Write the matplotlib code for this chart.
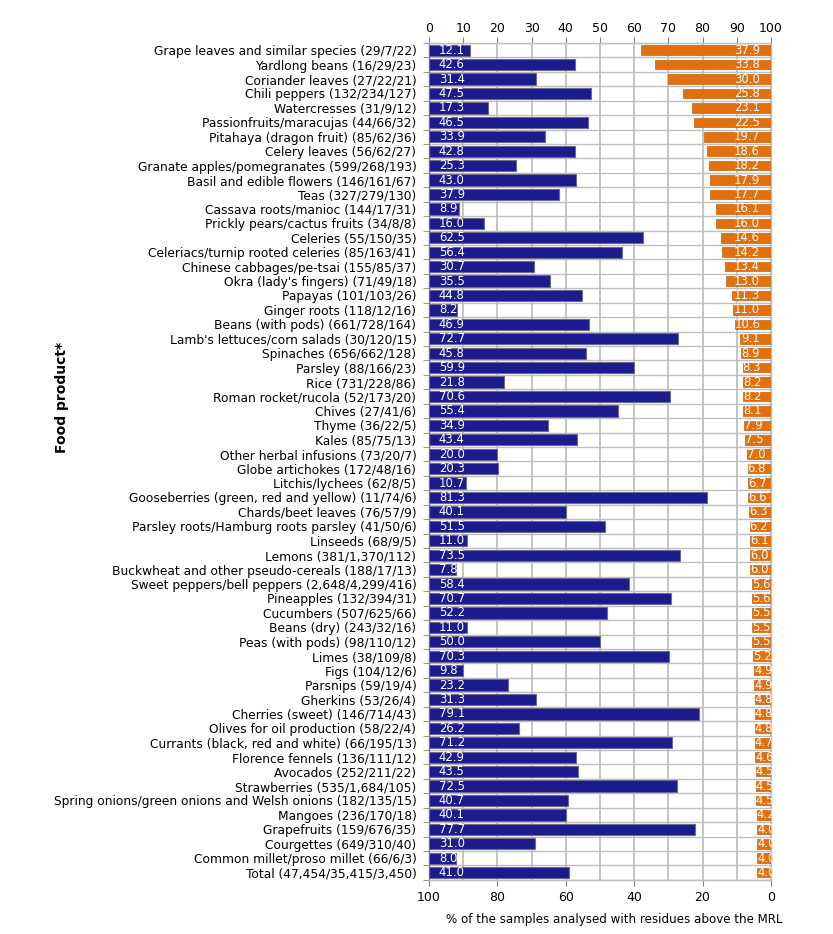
import numpy as np
import matplotlib
matplotlib.use("Agg")
import matplotlib.pyplot as plt
from matplotlib.transforms import Bbox, TransformedBbox

# food products with (samples 2019/2020/2021), top to bottom
products = [
    "Grape leaves and similar species (29/7/22)",
    "Yardlong beans (16/29/23)",
    "Coriander leaves (27/22/21)",
    "Chili peppers (132/234/127)",
    "Watercresses (31/9/12)",
    "Passionfruits/maracujas (44/66/32)",
    "Pitahaya (dragon fruit) (85/62/36)",
    "Celery leaves (56/62/27)",
    "Granate apples/pomegranates (599/268/193)",
    "Basil and edible flowers (146/161/67)",
    "Teas (327/279/130)",
    "Cassava roots/manioc (144/17/31)",
    "Prickly pears/cactus fruits (34/8/8)",
    "Celeries (55/150/35)",
    "Celeriacs/turnip rooted celeries (85/163/41)",
    "Chinese cabbages/pe-tsai (155/85/37)",
    "Okra (lady's fingers) (71/49/18)",
    "Papayas (101/103/26)",
    "Ginger roots (118/12/16)",
    "Beans (with pods) (661/728/164)",
    "Lamb's lettuces/corn salads (30/120/15)",
    "Spinaches (656/662/128)",
    "Parsley (88/166/23)",
    "Rice (731/228/86)",
    "Roman rocket/rucola (52/173/20)",
    "Chives (27/41/6)",
    "Thyme (36/22/5)",
    "Kales (85/75/13)",
    "Other herbal infusions (73/20/7)",
    "Globe artichokes (172/48/16)",
    "Litchis/lychees (62/8/5)",
    "Gooseberries (green, red and yellow) (11/74/6)",
    "Chards/beet leaves (76/57/9)",
    "Parsley roots/Hamburg roots parsley (41/50/6)",
    "Linseeds (68/9/5)",
    "Lemons (381/1,370/112)",
    "Buckwheat and other pseudo-cereals (188/17/13)",
    "Sweet peppers/bell peppers (2,648/4,299/416)",
    "Pineapples (132/394/31)",
    "Cucumbers (507/625/66)",
    "Beans (dry) (243/32/16)",
    "Peas (with pods) (98/110/12)",
    "Limes (38/109/8)",
    "Figs (104/12/6)",
    "Parsnips (59/19/4)",
    "Gherkins (53/26/4)",
    "Cherries (sweet) (146/714/43)",
    "Olives for oil production (58/22/4)",
    "Currants (black, red and white) (66/195/13)",
    "Florence fennels (136/111/12)",
    "Avocados (252/211/22)",
    "Strawberries (535/1,684/105)",
    "Spring onions/green onions and Welsh onions (182/135/15)",
    "Mangoes (236/170/18)",
    "Grapefruits (159/676/35)",
    "Courgettes (649/310/40)",
    "Common millet/proso millet (66/6/3)",
    "Total (47,454/35,415/3,450)",
]

# blue bars, read on the top axis (0 -> 100)
blue_values = [
    12.1, 42.6, 31.4, 47.5, 17.3, 46.5, 33.9, 42.8, 25.3, 43.0,
    37.9, 8.9, 16.0, 62.5, 56.4, 30.7, 35.5, 44.8, 8.2, 46.9,
    72.7, 45.8, 59.9, 21.8, 70.6, 55.4, 34.9, 43.4, 20.0, 20.3,
    10.7, 81.3, 40.1, 51.5, 11.0, 73.5, 7.8, 58.4, 70.7, 52.2,
    11.0, 50.0, 70.3, 9.8, 23.2, 31.3, 79.1, 26.2, 71.2, 42.9,
    43.5, 72.5, 40.7, 40.1, 77.7, 31.0, 8.0, 41.0,
]

# orange bars, % of samples above the MRL (bottom axis, 100 -> 0)
orange_values = [
    37.9, 33.8, 30.0, 25.8, 23.1, 22.5, 19.7, 18.6, 18.2, 17.9,
    17.7, 16.1, 16.0, 14.6, 14.2, 13.4, 13.0, 11.3, 11.0, 10.6,
    9.1, 8.9, 8.3, 8.2, 8.2, 8.1, 7.9, 7.5, 7.0, 6.8,
    6.7, 6.6, 6.3, 6.2, 6.1, 6.0, 6.0, 5.6, 5.6, 5.5,
    5.5, 5.5, 5.2, 4.9, 4.9, 4.8, 4.8, 4.8, 4.7, 4.6,
    4.5, 4.5, 4.5, 4.2, 4.0, 4.0, 4.0, 4.0,
]

top_ticks = list(range(0, 101, 10))
bottom_ticks = list(range(0, 101, 20))

BLUE = "#1b1a8e"
ORANGE = "#e2700e"
GRID = "#bfbfbf"

plt.rcParams["font.family"] = "DejaVu Sans"

fig = plt.figure(figsize=(8.33, 9.34), dpi=100)
ax = fig.add_axes([0.515, 0.058, 0.4105, 0.896])

n = len(products)
y = np.arange(n)

blue_bars = ax.barh(y, blue_values, height=0.78, color=BLUE,
                    edgecolor="#6c6c8c", linewidth=0.8, zorder=3)
orange_left = [100 - v for v in orange_values]
orange_bars = ax.barh(y, orange_values, left=orange_left, height=0.66,
                      color=ORANGE, edgecolor="#c0640e", linewidth=0.5,
                      zorder=3)

ax.set_xlim(0, 100)
ax.set_ylim(n - 0.5, -0.5)

# top axis
ax.xaxis.tick_top()
ax.set_xticks(top_ticks)
ax.tick_params(axis="x", which="major", length=4, color="#808080",
               labelsize=9, pad=2)

# categories on the left
ax.set_yticks(y)
ax.set_yticklabels(products, fontsize=8.8)
ax.set_yticks(np.arange(n + 1) - 0.5, minor=True)
ax.tick_params(axis="y", which="major", length=0, pad=9)
ax.tick_params(axis="y", which="minor", length=4, color="#808080")

ax.grid(True, axis="x", which="major", color=GRID, linewidth=1.3)
ax.grid(True, axis="y", which="minor", color=GRID, linewidth=1.0)
ax.set_axisbelow(True)

for side in ["top", "right", "bottom"]:
    ax.spines[side].set_color(GRID)
    ax.spines[side].set_linewidth(1.0)
ax.spines["left"].set_color("#808080")
ax.spines["left"].set_linewidth(1.0)

# bottom axis, reversed
sec = ax.secondary_xaxis("bottom", functions=(lambda v: 100 - v, lambda v: 100 - v))
sec.set_xticks(bottom_ticks)
sec.tick_params(length=4, color="#808080", labelsize=9, pad=4)
sec.spines["bottom"].set_color("#808080")

fig.text(0.737, 0.015, "% of the samples analysed with residues above the MRL",
         fontsize=8.6, ha="center", va="center")
fig.text(0.074, 0.574, "Food product*", rotation=90, fontsize=10,
         fontweight="bold", ha="center", va="center")

# value labels inside the bars
fig.canvas.draw()
renderer = fig.canvas.get_renderer()
inv = ax.transData.inverted()

for bar, v in zip(blue_bars, blue_values):
    t = ax.text(2.9, bar.get_y() + bar.get_height() / 2, f"{v:.1f}",
                color="white", fontsize=8.4, ha="left", va="center",
                zorder=4)
    t.set_clip_box(TransformedBbox(Bbox([[0, bar.get_y()],
                                         [v, bar.get_y() + bar.get_height()]]),
                                   ax.transData))

for bar, v in zip(orange_bars, orange_values):
    yc = bar.get_y() + bar.get_height() / 2
    t = ax.text(96.8, yc, f"{v:.1f}", color="white", fontsize=8.4,
                ha="right", va="center", zorder=4)
    ext = t.get_window_extent(renderer)
    x0 = inv.transform((ext.x0, ext.y0))[0]
    if 100 - v > x0:
        t.set_x(100 - v)
        t.set_ha("left")
    t.set_clip_box(TransformedBbox(Bbox([[100 - v, bar.get_y()],
                                         [100, bar.get_y() + bar.get_height()]]),
                                   ax.transData))

fig.savefig("out.png", dpi=100)
